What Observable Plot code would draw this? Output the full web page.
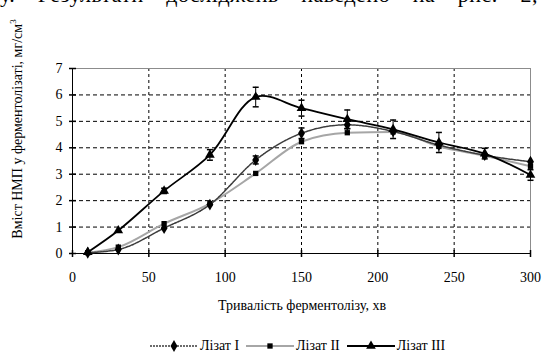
<!DOCTYPE html>
<html><head><meta charset="utf-8">
<script src="https://cdn.jsdelivr.net/npm/d3@7"></script>
<script src="https://cdn.jsdelivr.net/npm/@observablehq/plot@0.6"></script>
<style>
body{margin:0;background:#fff;width:543px;height:352px;overflow:hidden;position:relative;font-family:"Liberation Serif","Times New Roman",serif;color:#000;}
#toptext{position:absolute;left:0;top:-17px;width:578px;font-size:22px;line-height:24px;letter-spacing:0.5px;text-align:justify;text-align-last:justify;white-space:normal;z-index:5;}
#chart{position:absolute;left:0;top:0;z-index:1;}
#chart svg, #chart svg text{font-family:"Liberation Serif","Times New Roman",serif !important;}
#ylabel{position:absolute;left:17px;top:129px;transform:translate(-50%,-50%) rotate(-90deg);white-space:nowrap;font-size:14px;z-index:5;}
#xlabel{position:absolute;left:302px;top:306px;transform:translate(-50%,-50%);white-space:nowrap;font-size:14px;z-index:5;}
#legend{position:absolute;left:150px;top:338px;display:flex;align-items:center;font-size:14px;font-family:"Liberation Serif",serif;z-index:5;}
#legend .item{display:flex;align-items:center;margin-right:7px;}
#legend .item span{margin-left:2px;}
</style>
</head><body>
<div id="chart"></div>
<div id="toptext">у. Результати досліджень наведено на рис. 2, 3.</div>
<div id="ylabel">Вміст НМП у ферментолізаті, мг/см<sup style="font-size:9px">3</sup></div>
<div id="xlabel">Тривалість ферментолізу, хв</div>
<div id="legend"></div>
<script>
const times = [10, 30, 60, 90, 120, 150, 180, 210, 240, 270, 300];
const lysI   = [0.03, 0.15, 0.96, 1.85, 3.54, 4.55, 4.87, 4.62, 4.10, 3.72, 3.47];
const lysII  = [0.03, 0.24, 1.13, 1.89, 3.03, 4.23, 4.57, 4.60, 4.05, 3.70, 3.30];
const lysIII = [0.05, 0.87, 2.37, 3.73, 5.92, 5.50, 5.08, 4.70, 4.20, 3.78, 2.97];
const errI   = [0, 0, 0, 0, 0.15, 0.2, 0.15, 0, 0, 0, 0];
const errII  = [0, 0, 0, 0, 0, 0, 0, 0, 0, 0, 0];
const errIII = [0, 0, 0.1, 0.2, 0.37, 0.3, 0.35, 0.35, 0.38, 0.2, 0.2];
const seriesNames = ["Лізат I", "Лізат II", "Лізат III"];
const xTicks = [0, 50, 100, 150, 200, 250, 300];
const yTicks = [0, 1, 2, 3, 4, 5, 6, 7];

const values = [lysI, lysII, lysIII];
const errs = [errI, errII, errIII];
const rows = [];
seriesNames.forEach((s, i) => times.forEach((t, j) => rows.push({series: s, t, v: values[i][j], e: errs[i][j]})));
const bySeries = s => rows.filter(d => d.series === s);

const styles = {
  "Лізат I":   {stroke: "#3c3c3c", strokeWidth: 1.5, dash: "2,1", symbol: "diamond", r: 3.6, curve: "monotone-x"},
  "Лізат II":  {stroke: "#a6a6a6", strokeWidth: 2, dash: null, symbol: "square", r: 3, curve: "monotone-x"},
  "Лізат III": {stroke: "#000000", strokeWidth: 1.8, dash: null, symbol: "triangle", r: 3.6, curve: "catmull-rom"}
};

const vTick = {draw(ctx, size) { ctx.moveTo(0, -3.5); ctx.lineTo(0, 3.5); }};
const hTick = {draw(ctx, size) { ctx.moveTo(-3.5, 0); ctx.lineTo(3.5, 0); }};
const cap = {draw(ctx, size) { ctx.moveTo(-3, 0); ctx.lineTo(3, 0); }};

const marks = [
  Plot.gridY(yTicks.filter(d => d > 0 && d < 7), {stroke: "#000", strokeOpacity: 1, strokeDasharray: "4,3"}),
  Plot.gridX(xTicks.filter(d => d > 0 && d < 300), {stroke: "#000", strokeOpacity: 1, strokeDasharray: "3,3"}),
  Plot.ruleY([7], {stroke: "#8c8c8c"}),
  Plot.ruleX([300], {stroke: "#8c8c8c"}),
  Plot.ruleX([0], {stroke: "#000"}),
  Plot.ruleY([0], {stroke: "#000"}),
  Plot.dot(xTicks, {x: d => d, y: () => 0, symbol: vTick, stroke: "#000", r: 3}),
  Plot.dot(yTicks, {x: () => 0, y: d => d, symbol: hTick, stroke: "#000", r: 3}),
  Plot.axisX({ticks: xTicks, tickSize: 0, tickPadding: 19, label: null, tickFormat: d => String(d)}),
  Plot.axisY({ticks: yTicks, tickSize: 0, tickPadding: 10, label: null, tickFormat: d => String(d)})
];
["Лізат II", "Лізат I", "Лізат III"].forEach(s => {
  const st = styles[s];
  const data = bySeries(s);
  marks.push(Plot.line(data, {x: "t", y: "v", curve: st.curve, stroke: st.stroke, strokeWidth: st.strokeWidth, strokeDasharray: st.dash}));
  const eb = data.filter(d => d.e > 0);
  marks.push(Plot.ruleX(eb, {x: "t", y1: d => d.v - d.e, y2: d => d.v + d.e, stroke: "#000", strokeWidth: 1}));
  marks.push(Plot.dot(eb, {x: "t", y: d => d.v - d.e, symbol: cap, stroke: "#000", r: 3}));
  marks.push(Plot.dot(eb, {x: "t", y: d => d.v + d.e, symbol: cap, stroke: "#000", r: 3}));
  marks.push(Plot.dot(data, {x: "t", y: "v", symbol: st.symbol, fill: "#000", r: st.r}));
});

const chart = Plot.plot({
  width: 543,
  height: 320,
  marginLeft: 72,
  marginRight: 13,
  marginTop: 68,
  marginBottom: 67,
  style: {fontFamily: "Liberation Serif, serif", fontSize: "14px", background: "transparent", color: "#000"},
  x: {domain: [0, 300]},
  y: {domain: [0, 7]},
  marks
});
document.getElementById("chart").appendChild(chart);

// legend
const legend = d3.select("#legend");
seriesNames.forEach(s => {
  const st = styles[s];
  const item = legend.append("div").attr("class", "item");
  const svg = item.append("svg").attr("width", 48).attr("height", 12);
  svg.append("line").attr("x1", 0).attr("x2", 48).attr("y1", 6).attr("y2", 6)
    .attr("stroke", st.stroke).attr("stroke-width", st.strokeWidth)
    .attr("stroke-dasharray", st.dash);
  const symType = {diamond: d3.symbolDiamond, square: d3.symbolSquare, triangle: d3.symbolTriangle}[st.symbol];
  svg.append("path").attr("transform", "translate(24,6)")
    .attr("d", d3.symbol(symType, Math.PI * st.r * st.r)())
    .attr("fill", "#000");
  item.append("span").text(s);
});
</script>
</body></html>
